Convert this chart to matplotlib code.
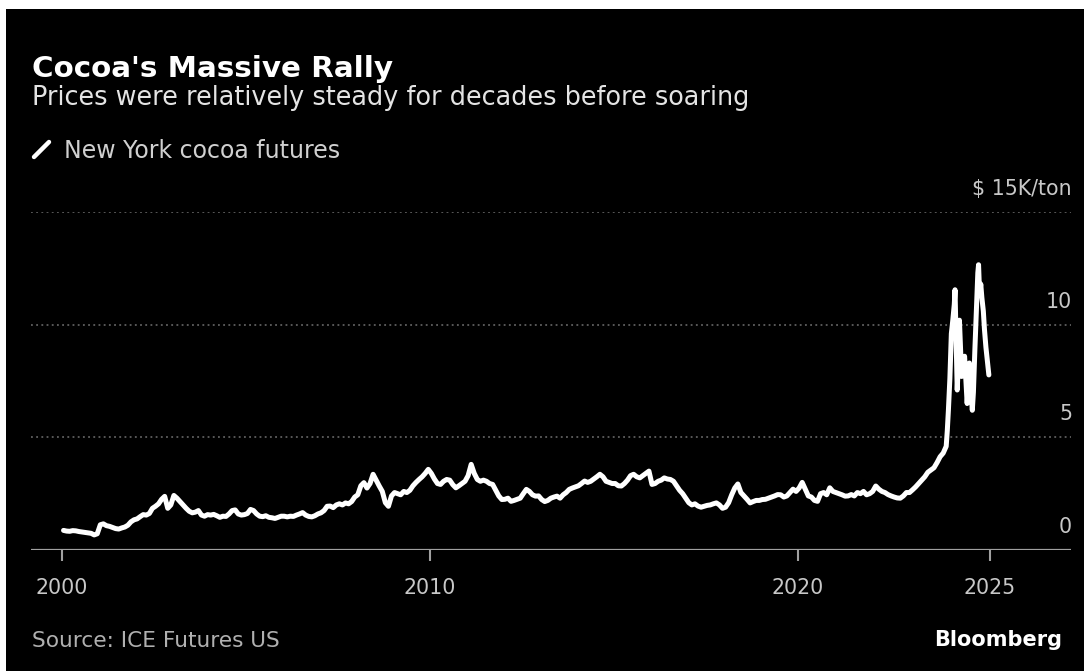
import numpy as np
import matplotlib
matplotlib.use("Agg")
import matplotlib.pyplot as plt
import matplotlib.transforms as mtransforms
from matplotlib.patches import Rectangle
from matplotlib.lines import Line2D

# ---------------- data ($K per ton) ----------------
start_year = 2000
prices_2000s = [
    0.87, 0.84, 0.83, 0.86, 0.85, 0.82, 0.80, 0.78, 0.76, 0.74, 0.67, 0.72,   # 2000
    1.12, 1.16, 1.08, 1.05, 1.00, 0.95, 0.93, 0.98, 1.02, 1.10, 1.25, 1.34,   # 2001
    1.38, 1.48, 1.57, 1.55, 1.62, 1.85, 1.94, 2.05, 2.25, 2.38, 1.85, 2.00,   # 2002
    2.42, 2.30, 2.15, 2.00, 1.85, 1.72, 1.65, 1.68, 1.75, 1.55, 1.50, 1.57,   # 2003
    1.55, 1.58, 1.52, 1.45, 1.50, 1.49, 1.60, 1.75, 1.78, 1.60, 1.55, 1.57,   # 2004
    1.62, 1.80, 1.75, 1.60, 1.50, 1.48, 1.52, 1.45, 1.43, 1.40, 1.45, 1.50,   # 2005
    1.50, 1.47, 1.50, 1.49, 1.55, 1.60, 1.66, 1.55, 1.49, 1.47, 1.52, 1.60,   # 2006
    1.65, 1.75, 1.94, 1.95, 1.88, 2.00, 2.05, 2.00, 2.09, 2.05, 2.15, 2.35,   # 2007
    2.45, 2.85, 2.99, 2.75, 2.95, 3.36, 3.10, 2.84, 2.60, 2.10, 1.94, 2.40,   # 2008
    2.55, 2.50, 2.45, 2.60, 2.55, 2.65, 2.85, 3.00, 3.13, 3.25, 3.40, 3.58,   # 2009
]
prices_2010s = [
    3.40, 3.15, 2.95, 2.91, 3.05, 3.13, 3.10, 2.90, 2.76, 2.85, 2.95, 3.05,   # 2010
    3.30, 3.80, 3.40, 3.13, 3.05, 3.10, 3.05, 2.95, 2.91, 2.65, 2.40, 2.24,   # 2011
    2.25, 2.30, 2.16, 2.20, 2.25, 2.30, 2.50, 2.69, 2.60, 2.45, 2.39, 2.40,   # 2012
    2.24, 2.15, 2.20, 2.30, 2.35, 2.39, 2.30, 2.45, 2.55, 2.69, 2.75, 2.80,   # 2013
    2.85, 2.95, 3.06, 3.00, 3.05, 3.15, 3.25, 3.36, 3.25, 3.05, 3.00, 2.95,   # 2014
    2.95, 2.85, 2.84, 2.95, 3.10, 3.30, 3.36, 3.25, 3.20, 3.30, 3.40, 3.50,   # 2015
    2.91, 2.95, 3.05, 3.10, 3.20, 3.15, 3.13, 3.05, 2.85, 2.65, 2.50, 2.30,   # 2016
    2.10, 2.00, 2.05, 1.95, 1.90, 1.94, 1.98, 2.00, 2.05, 2.09, 2.00, 1.85,   # 2017
    1.90, 2.10, 2.45, 2.75, 2.93, 2.55, 2.40, 2.25, 2.09, 2.15, 2.20, 2.20,   # 2018
    2.24, 2.25, 2.30, 2.35, 2.40, 2.46, 2.45, 2.35, 2.40, 2.55, 2.70, 2.60,   # 2019
]
prices_2020_2023 = [
    2.75, 3.00, 2.70, 2.40, 2.35, 2.20, 2.16, 2.50, 2.55, 2.45, 2.76, 2.60,   # 2020
    2.55, 2.50, 2.45, 2.39, 2.40, 2.46, 2.40, 2.55, 2.50, 2.60, 2.45, 2.50,   # 2021
    2.60, 2.84, 2.70, 2.60, 2.55, 2.46, 2.40, 2.35, 2.31, 2.30, 2.40, 2.55,   # 2022
    2.55, 2.67, 2.80, 2.95, 3.10, 3.25, 3.45, 3.55, 3.65, 3.88, 4.14, 4.30,   # 2023
]
rally_dates = [2024.04, 2024.07, 2024.10, 2024.14, 2024.18, 2024.22, 2024.26, 2024.28,
               2024.31, 2024.34, 2024.37, 2024.40, 2024.43, 2024.46, 2024.50, 2024.54,
               2024.58, 2024.61, 2024.64, 2024.67, 2024.71, 2024.75, 2024.78, 2024.82,
               2024.86, 2024.90, 2024.92, 2024.95, 2024.98, 2025.01, 2025.05, 2025.08,
               2025.12, 2025.16, 2025.20]
rally_prices = [4.6, 5.3, 6.2, 7.6, 9.6, 10.2, 10.9, 11.55,
                9.4, 7.1, 8.3, 10.2, 9.0, 7.7, 8.1, 8.6,
                7.4, 6.5, 7.3, 8.3, 7.1, 6.2, 7.0, 8.9,
                10.6, 12.3, 12.66, 11.3, 11.8, 11.2, 10.6, 9.8,
                9.0, 8.4, 7.77]

x_tick_pos = [2000, 2010, 2020, 2025.22]
x_tick_labels = ["2000", "2010", "2020", "2025"]
y_tick_vals = [0, 5, 10, 15]
y_tick_labels = ["0", "5", "10", "$ 15K/ton"]

# ---------------- build series ----------------
monthly = prices_2000s + prices_2010s + prices_2020_2023
monthly_dates = start_year + (np.arange(len(monthly)) + 0.5) / 12.0
dates = np.concatenate([monthly_dates, rally_dates])
prices = np.concatenate([monthly, rally_prices])

# ---------------- figure ----------------
W, H, DPI = 1084, 671, 100
fig = plt.figure(figsize=(W / DPI, H / DPI), dpi=DPI)
fig.patch.set_facecolor("white")
fig.patches.append(Rectangle((6 / W, 0), 1 - 6 / W, (H - 9) / H,
                             transform=fig.transFigure, facecolor="black",
                             edgecolor="none", zorder=-10))

ax_left, ax_right = 31, 1071
ax_bottom, ax_top = 550, 212
ax = fig.add_axes([ax_left / W, (H - ax_bottom) / H,
                   (ax_right - ax_left) / W, (ax_bottom - ax_top) / H])
ax.set_facecolor("none")
px_per_year = 36.78
ax.set_xlim(2000 + (ax_left - 62) / px_per_year, 2000 + (ax_right - 62) / px_per_year)
ax.set_ylim(0, 15)

for s in ax.spines.values():
    s.set_visible(False)

grid_col = "#707070"
axis_col = "#a0a0a0"
for v in y_tick_vals[1:]:
    ax.axhline(v, color=grid_col, lw=1.1, ls=(0, (1.2, 2.2)), zorder=1)
ax.axhline(0, color=axis_col, lw=1.6, zorder=2)

ax.plot(dates, prices, color="white", lw=3.6, solid_joinstyle="round",
        solid_capstyle="round", zorder=3, clip_on=False)

ax.set_xticks(x_tick_pos)
ax.set_xticklabels(x_tick_labels)
ax.tick_params(axis="x", length=8, width=1.5, color=axis_col, pad=12,
               labelsize=14.8, labelcolor="#c8c8c8")
ax.set_yticks([])

trans = mtransforms.blended_transform_factory(ax.transAxes, ax.transData)
offset = mtransforms.ScaledTranslation(0, 17 / DPI, fig.dpi_scale_trans)
for v, lab in zip(y_tick_vals, y_tick_labels):
    ax.text(1.0 + 1 / (ax_right - ax_left), v, lab, transform=trans + offset,
            ha="right", va="baseline", fontsize=14.8, color="#c8c8c8")

# ---------------- texts ----------------
def fx(px):
    return px / W

def fy(py):
    return 1 - py / H

fig.text(fx(32), fy(77), "Cocoa's Massive Rally", fontsize=21.2, fontweight="bold",
         color="white", ha="left", va="baseline")
fig.text(fx(32), fy(105), "Prices were relatively steady for decades before soaring",
         fontsize=18.4, color="#e4e4e4", ha="left", va="baseline")
fig.add_artist(Line2D([fx(34), fx(49)], [fy(157), fy(142)], color="white", lw=3.2,
                      solid_capstyle="round", transform=fig.transFigure))
fig.text(fx(64), fy(158), "New York cocoa futures", fontsize=17, color="#d0d0d0",
         ha="left", va="baseline")
fig.text(fx(32), fy(647), "Source: ICE Futures US", fontsize=15.6, color="#b0b0b0",
         ha="left", va="baseline")
fig.text(fx(1062), fy(646), "Bloomberg", fontsize=15, fontweight="bold",
         color="white", ha="right", va="baseline")

fig.savefig("out.png", dpi=DPI, facecolor=fig.get_facecolor())
